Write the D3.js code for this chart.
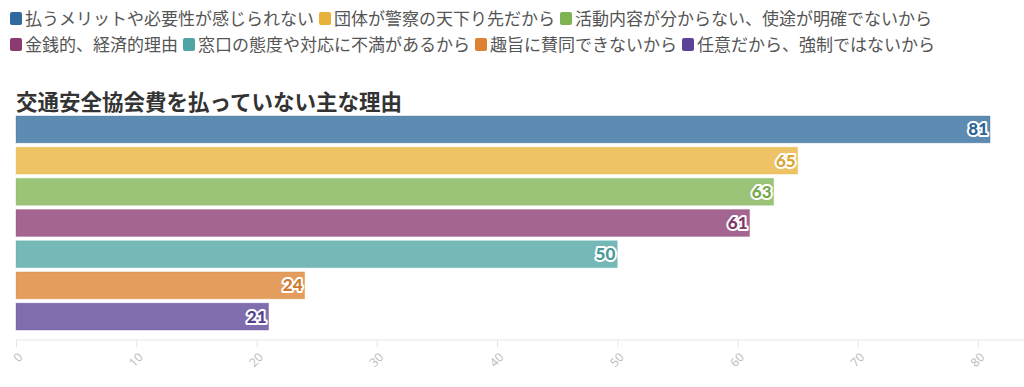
<!DOCTYPE html>
<html>
<head>
<meta charset="utf-8">
<script src="https://cdn.jsdelivr.net/npm/d3@7"></script>
<style>
  body { margin: 0; background: #fff; font-family: "Noto Sans CJK JP", "Noto Sans", sans-serif; }
  svg { display: block; }
</style>
</head>
<body>
<svg></svg>
<script>
// reasons, values and colours
const reasons = [
  "払うメリットや必要性が感じられない",
  "団体が警察の天下り先だから",
  "活動内容が分からない、使途が明確でないから",
  "金銭的、経済的理由",
  "窓口の態度や対応に不満があるから",
  "趣旨に賛同できないから",
  "任意だから、強制ではないから"
];
const values = [81, 65, 63, 61, 50, 24, 21];
const colors = ["#2f6a9c", "#e8b23a", "#7fb453", "#8a3b72", "#4fa4a4", "#dd8230", "#5b4497"];
const xTicks = [0, 10, 20, 30, 40, 50, 60, 70, 80];
const title = "交通安全協会費を払っていない主な理由";

const width = 1024, height = 387;
const svg = d3.select("svg").attr("width", width).attr("height", height);

// legend, two rows
const legendRows = [[0, 1, 2], [3, 4, 5, 6]];
legendRows.forEach(function (row, r) {
  let x = 10;
  row.forEach(function (i) {
    let g = svg.append("g").attr("transform", "translate(" + x + "," + (12 + r * 26) + ")");
    g.append("rect").attr("width", 12).attr("height", 13).attr("rx", 2).attr("fill", colors[i]);
    let t = g.append("text").attr("x", 15).attr("y", 12.5)
      .attr("font-size", 17).attr("fill", "#555").text(reasons[i]);
    x += 15 + t.node().getComputedTextLength() + 5;
  });
});

// title
svg.append("text").attr("x", 16).attr("y", 110)
  .attr("font-size", 21.5).attr("font-weight", "bold").attr("fill", "#333").text(title);

// scales
let x = d3.scaleLinear().domain([0, 80]).range([16, 978]);
let y = d3.scaleBand().domain(d3.range(values.length)).range([116, 330]).paddingInner(0.14).paddingOuter(0);

// bars
svg.append("g").selectAll("rect").data(values).join("rect")
  .attr("x", x(0))
  .attr("y", function (d, i) { return y(i); })
  .attr("width", function (d) { return x(d) - x(0); })
  .attr("height", y.bandwidth())
  .attr("fill", function (d, i) { return colors[i]; })
  .attr("fill-opacity", 0.78)
  .attr("stroke", function (d, i) { return colors[i]; })
  .attr("stroke-opacity", 0.3);

// value labels with white halo
svg.append("g").selectAll("text").data(values).join("text")
  .attr("x", function (d) { return x(d) - 2; })
  .attr("y", function (d, i) { return y(i) + y.bandwidth() / 2 + 6; })
  .attr("text-anchor", "end")
  .attr("font-family", "Lato, 'Noto Sans', sans-serif")
  .attr("font-size", 17).attr("font-weight", "900")
  .attr("fill", function (d, i) { return d3.color(colors[i]).darker(0.2); })
  .attr("stroke", "#fff").attr("stroke-width", 4).attr("stroke-linejoin", "round")
  .attr("paint-order", "stroke")
  .text(function (d) { return d; });

// x axis
let axis = svg.append("g").attr("transform", "translate(0,340)")
  .call(d3.axisBottom(x).tickValues(xTicks).tickSize(7).tickSizeOuter(0));
axis.select(".domain").attr("stroke", "#e6e6e6").attr("d", "M" + x(0) + ",0H" + width);
axis.selectAll(".tick line").attr("stroke", "#e6e6e6");
axis.selectAll(".tick text")
  .attr("fill", "#bbb").attr("font-size", 12)
  .attr("font-family", "'Open Sans', sans-serif")
  .attr("text-anchor", "end")
  .attr("x", 0).attr("y", 0).attr("dy", "0.35em")
  .attr("transform", "translate(4,15) rotate(-45)");
</script>
</body>
</html>
